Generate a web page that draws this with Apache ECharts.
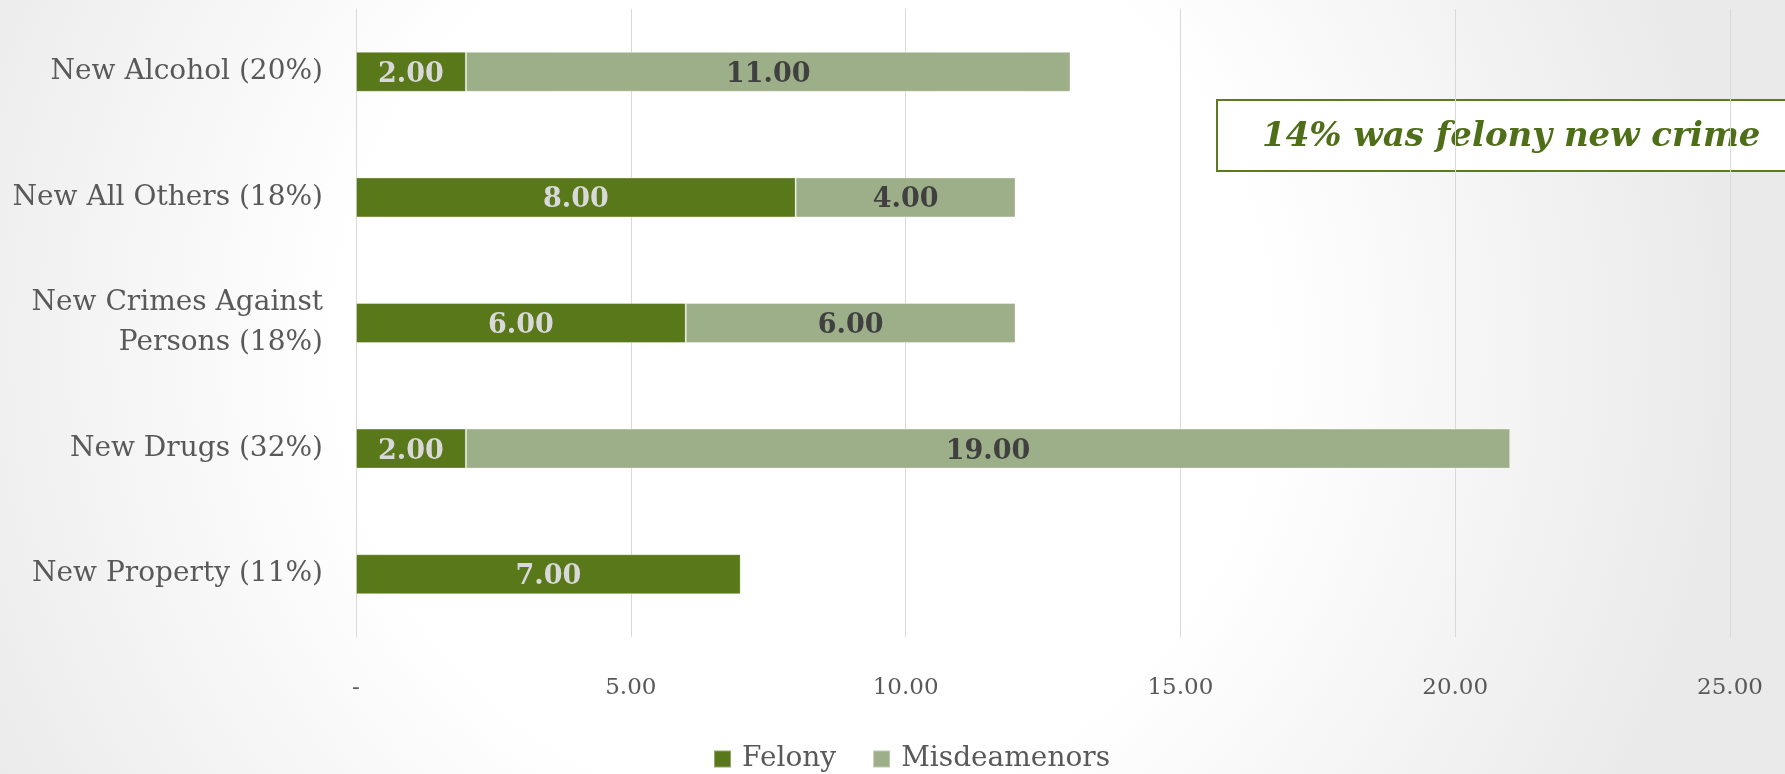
<!DOCTYPE html>
<html>
<head>
<meta charset="utf-8">
<script src="https://cdn.jsdelivr.net/npm/echarts@6/dist/echarts.min.js"></script>
<style>
  html, body { margin: 0; padding: 0; }
  #chart { width: 1785px; height: 774px; }
</style>
</head>
<body>
<div id="chart"></div>
<script>
// Offense categories, listed top to bottom
const categories = [
  'New Alcohol (20%)',
  'New All Others (18%)',
  'New Crimes Against\nPersons (18%)',
  'New Drugs (32%)',
  'New Property (11%)'
];
const felony = [2, 8, 6, 2, 7];
const misdemeanors = [11, 4, 6, 19, 0];
const seriesNames = ['Felony', 'Misdeamenors'];
const note = '14% was felony new crime';

const serif = '"DejaVu Serif", "Liberation Serif", serif';
const fmt = v => v === 0 ? '-' : v.toFixed(2);

const chart = echarts.init(document.getElementById('chart'));
chart.setOption({
  backgroundColor: {
    type: 'radial', x: 0.45, y: 0.45, r: 1.2,
    colorStops: [
      { offset: 0, color: '#ffffff' },
      { offset: 0.5, color: '#ffffff' },
      { offset: 1, color: '#eaeaea' }
    ]
  },
  animation: false,
  grid: { left: 356, right: 55, top: 9, bottom: 137, containLabel: false },
  legend: {
    top: 740,
    left: 708,
    icon: 'rect',
    itemWidth: 17,
    itemHeight: 17,
    itemGap: 36,
    textStyle: { fontFamily: serif, fontSize: 28, color: '#595959', padding: [0, 0, 0, 6] },
    data: seriesNames
  },
  xAxis: {
    type: 'value',
    min: 0, max: 25, interval: 5,
    axisLine: { show: false },
    axisTick: { show: false },
    splitLine: { lineStyle: { color: '#d9d9d9', width: 1 } },
    axisLabel: { formatter: fmt, margin: 40, fontFamily: serif, fontSize: 23, color: '#595959' }
  },
  yAxis: {
    type: 'category',
    inverse: true,
    data: categories,
    axisLine: { show: true, lineStyle: { color: '#d9d9d9' } },
    axisTick: { show: false },
    axisLabel: { margin: 33, fontFamily: serif, fontSize: 28, color: '#595959', lineHeight: 40, align: 'right' }
  },
  series: [
    {
      name: seriesNames[0], type: 'bar', stack: 'total', barWidth: 40,
      data: felony,
      itemStyle: { color: '#58781a', borderColor: 'rgba(255,255,255,0.35)', borderWidth: 1 },
      label: {
        show: true, position: 'inside', offset: [0, 3], formatter: p => p.value ? p.value.toFixed(2) : '',
        fontFamily: serif, fontSize: 27, fontWeight: 'bold', color: '#d9d9d9'
      }
    },
    {
      name: seriesNames[1], type: 'bar', stack: 'total', barWidth: 40,
      data: misdemeanors,
      itemStyle: { color: '#9caf88', borderColor: 'rgba(255,255,255,0.35)', borderWidth: 1 },
      label: {
        show: true, position: 'inside', offset: [0, 3], formatter: p => p.value ? p.value.toFixed(2) : '',
        fontFamily: serif, fontSize: 27, fontWeight: 'bold', color: '#404040'
      }
    }
  ],
  graphic: [
    {
      type: 'group', left: 1216, top: 99, z: 100,
      children: [
        { type: 'rect', shape: { x: 0, y: 0, width: 620, height: 71 },
          style: { fill: '#ffffff', stroke: '#5b7b1e', lineWidth: 2 } },
        { type: 'text', x: 45, y: 37,
          style: { text: note, fill: '#4f6e18', fontFamily: serif, fontStyle: 'italic', fontWeight: 'bold',
                   fontSize: 34, verticalAlign: 'middle' } }
      ]
    }
  ]
});
</script>
</body>
</html>
